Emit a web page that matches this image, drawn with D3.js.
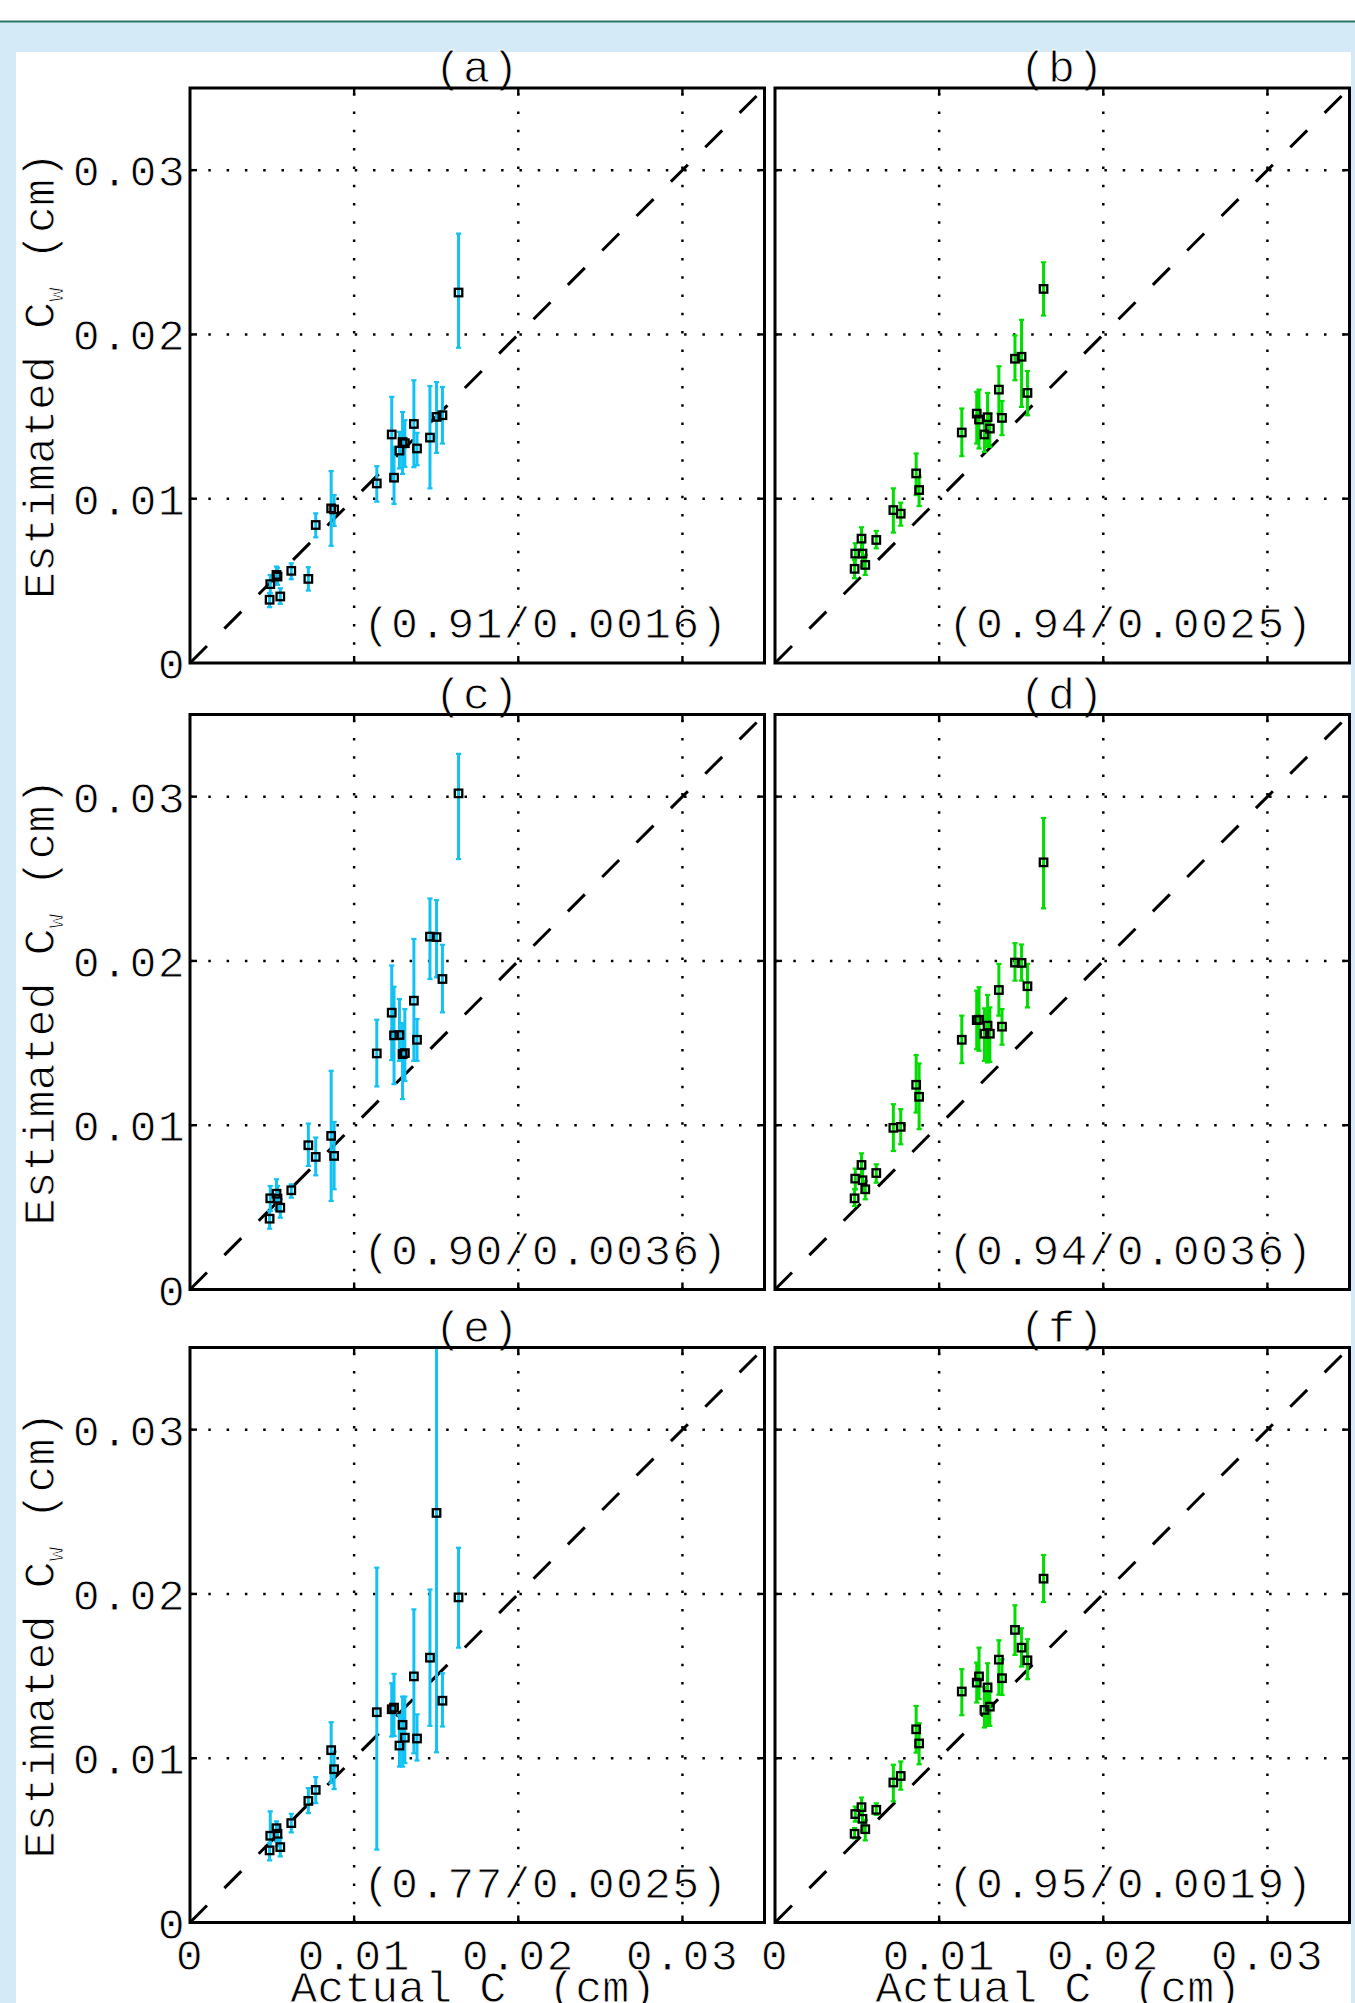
<!DOCTYPE html>
<html>
<head>
<meta charset="utf-8">
<script src="https://cdn.jsdelivr.net/npm/d3@7"></script>
<style>
  html, body { margin: 0; padding: 0; background: #ffffff; }
  svg { display: block; }
  text.thin { stroke: #ffffff; stroke-width: 0.9px; }
</style>
</head>
<body>
<svg id="chart" width="1355" height="2003"></svg>
<script>
// ---------------- DATA ----------------
const panelLabels = ["(a)", "(b)", "(c)", "(d)", "(e)", "(f)"];
const statLabels = ["(0.91/0.0016)", "(0.94/0.0025)", "(0.90/0.0036)", "(0.94/0.0036)", "(0.77/0.0025)", "(0.95/0.0019)"];
const tickValues = [0, 0.01, 0.02, 0.03];
const tickLabels = ["0", "0.01", "0.02", "0.03"];

// actual C_w (cm), shared by all panels
const actualCw = [0.00485, 0.00489, 0.00527, 0.00533, 0.00550, 0.00617, 0.00721, 0.00766, 0.00860, 0.00878,
                  0.01138, 0.01229, 0.01243, 0.01276, 0.01295, 0.01309, 0.01364, 0.01383, 0.01462, 0.01502,
                  0.01538, 0.01636];

// (a)
const estA = [0.00385, 0.00480, 0.00536, 0.00526, 0.00405, 0.00561, 0.00512, 0.00840, 0.00941, 0.00935,
              0.01093, 0.01391, 0.01128, 0.01293, 0.01345, 0.01338, 0.01455, 0.01306, 0.01372, 0.01498,
              0.01508, 0.02255];
const lowA = [0.00340, 0.00425, 0.00486, 0.00476, 0.00360, 0.00510, 0.00441, 0.00765, 0.00713, 0.00834,
              0.00982, 0.01113, 0.00968, 0.01184, 0.01151, 0.01194, 0.01192, 0.01204, 0.01063, 0.01279,
              0.01336, 0.01919];
const highA = [0.00425, 0.00536, 0.00587, 0.00580, 0.00455, 0.00607, 0.00583, 0.00911, 0.01168, 0.01022,
               0.01198, 0.01620, 0.01316, 0.01407, 0.01528, 0.01478, 0.01721, 0.01401, 0.01686, 0.01710,
               0.01680, 0.02613];
// (b)
const estB = [0.00573, 0.00666, 0.00757, 0.00666, 0.00597, 0.00749, 0.00931, 0.00909, 0.01154, 0.01053,
              0.01403, 0.01518, 0.01482, 0.01391, 0.01496, 0.01427, 0.01664, 0.01492, 0.01852, 0.01864,
              0.01644, 0.02277];
const lowB = [0.00516, 0.00597, 0.00678, 0.00587, 0.00536, 0.00698, 0.00794, 0.00836, 0.01022, 0.00955,
              0.01259, 0.01336, 0.01306, 0.01285, 0.01316, 0.01316, 0.01518, 0.01387, 0.01721, 0.01559,
              0.01508, 0.02115];
const highB = [0.00628, 0.00729, 0.00826, 0.00729, 0.00658, 0.00804, 0.01063, 0.00976, 0.01275, 0.01134,
               0.01549, 0.01650, 0.01664, 0.01478, 0.01644, 0.01518, 0.01806, 0.01595, 0.01994, 0.02089,
               0.01777, 0.02439];
// (c)
const estC = [0.00431, 0.00555, 0.00583, 0.00553, 0.00498, 0.00604, 0.00878, 0.00807, 0.00935, 0.00813,
              0.01437, 0.01685, 0.01547, 0.01549, 0.01433, 0.01439, 0.01758, 0.01520, 0.02148, 0.02145,
              0.01890, 0.03020];
const lowC = [0.00370, 0.00478, 0.00488, 0.00480, 0.00437, 0.00559, 0.00752, 0.00695, 0.00539, 0.00610,
              0.01236, 0.01396, 0.01250, 0.01392, 0.01159, 0.01270, 0.01392, 0.01392, 0.01890, 0.01900,
              0.01687, 0.02620];
const highC = [0.00478, 0.00630, 0.00671, 0.00630, 0.00549, 0.00640, 0.01010, 0.00925, 0.01331, 0.01020,
               0.01642, 0.01972, 0.01843, 0.01768, 0.01622, 0.01707, 0.02134, 0.01646, 0.02380, 0.02370,
               0.02098, 0.03260];
// (d)
const estD = [0.00555, 0.00675, 0.00758, 0.00665, 0.00610, 0.00709, 0.00984, 0.00990, 0.01246, 0.01173,
              0.01520, 0.01640, 0.01642, 0.01557, 0.01606, 0.01557, 0.01823, 0.01600, 0.01990, 0.01988,
              0.01846, 0.02600];
const lowD = [0.00508, 0.00610, 0.00681, 0.00589, 0.00549, 0.00650, 0.00843, 0.00884, 0.01077, 0.00976,
              0.01378, 0.01463, 0.01453, 0.01392, 0.01382, 0.01386, 0.01667, 0.01490, 0.01880, 0.01880,
              0.01717, 0.02320];
const highD = [0.00610, 0.00736, 0.00829, 0.00732, 0.00660, 0.00762, 0.01128, 0.01098, 0.01427, 0.01376,
               0.01667, 0.01819, 0.01840, 0.01711, 0.01793, 0.01717, 0.01982, 0.01707, 0.02108, 0.02100,
               0.01982, 0.02870];
// (e)
const estE = [0.00439, 0.00528, 0.00574, 0.00540, 0.00459, 0.00605, 0.00740, 0.00807, 0.01049, 0.00933,
              0.01280, 0.01298, 0.01308, 0.01077, 0.01203, 0.01125, 0.01498, 0.01120, 0.01612, 0.02493,
              0.01350, 0.01979];
const lowE = [0.00378, 0.00463, 0.00493, 0.00464, 0.00402, 0.00548, 0.00666, 0.00727, 0.00848, 0.00812,
              0.00443, 0.01132, 0.01136, 0.00949, 0.00949, 0.00970, 0.01030, 0.00986, 0.01197, 0.01036,
              0.01193, 0.01673];
const highE = [0.00483, 0.00676, 0.00615, 0.00594, 0.00514, 0.00662, 0.00818, 0.00885, 0.01219, 0.01040,
               0.02160, 0.01456, 0.01513, 0.01263, 0.01375, 0.01375, 0.01906, 0.01267, 0.02027, 0.03600,
               0.01517, 0.02281];
// (f)
const estF = [0.00540, 0.00660, 0.00702, 0.00631, 0.00568, 0.00686, 0.00852, 0.00892, 0.01176, 0.01090,
              0.01406, 0.01460, 0.01498, 0.01294, 0.01431, 0.01314, 0.01600, 0.01487, 0.01781, 0.01673,
              0.01596, 0.02093];
const lowF = [0.00512, 0.00614, 0.00655, 0.00554, 0.00500, 0.00655, 0.00737, 0.00808, 0.01034, 0.00963,
              0.01262, 0.01339, 0.01360, 0.01187, 0.01197, 0.01197, 0.01387, 0.01385, 0.01629, 0.01558,
              0.01481, 0.01951];
const highF = [0.00575, 0.00706, 0.00761, 0.00689, 0.00625, 0.00726, 0.00960, 0.00980, 0.01318, 0.01213,
               0.01542, 0.01582, 0.01673, 0.01432, 0.01578, 0.01402, 0.01718, 0.01602, 0.01931, 0.01791,
               0.01724, 0.02237];

const seriesEst = [estA, estB, estC, estD, estE, estF];
const seriesLow = [lowA, lowB, lowC, lowD, lowE, lowF];
const seriesHigh = [highA, highB, highC, highD, highE, highF];

// ---------------- LAYOUT / STYLE ----------------
const CYAN = "#12c2f2";
const GREEN = "#00dd00";
const panelColors = [CYAN, GREEN, CYAN, GREEN, CYAN, GREEN];
const FONT = "'Liberation Mono', 'DejaVu Sans Mono', monospace";
const LS = 1.3; // letter spacing
const colLeft = [190, 775];
const rowTop = [88, 714.5, 1347.5];
const plotW = 574.5, plotH = 575;
const domainMax = 0.035;

const svg = d3.select("#chart");

// page background
svg.append("rect").attr("x", 0).attr("y", 0).attr("width", 1355).attr("height", 2003).attr("fill", "#ffffff");
svg.append("rect").attr("x", 0).attr("y", 22).attr("width", 1355).attr("height", 1981).attr("fill", "#d5eaf7");
svg.append("rect").attr("x", 0).attr("y", 20.5).attr("width", 1355).attr("height", 2).attr("fill", "#2a7764");
svg.append("rect").attr("x", 16).attr("y", 52).attr("width", 1335).attr("height", 1951).attr("fill", "#ffffff");

const textLayer = [];

panelLabels.forEach((lab, i) => {
  const col = i % 2, row = Math.floor(i / 2);
  const L = colLeft[col], T = rowTop[row];
  const x = d3.scaleLinear().domain([0, domainMax]).range([L, L + plotW]);
  const y = d3.scaleLinear().domain([0, domainMax]).range([T + plotH, T]);
  const g = svg.append("g");

  const clipId = "clip" + i;
  svg.append("clipPath").attr("id", clipId).append("rect")
    .attr("x", L).attr("y", T).attr("width", plotW).attr("height", plotH);

  // text first (so lines drawn later sit on top of the thinning stroke)
  const tg = g.append("g");

  // title
  tg.append("text").attr("class", "thin").attr("x", L + plotW / 2).attr("y", T - 6)
    .attr("text-anchor", "middle").attr("font-family", FONT).attr("font-size", 45)
    .attr("letter-spacing", LS).attr("fill", "#000").text(lab);

  // stats annotation
  tg.append("text").attr("class", "thin").attr("x", L + 173).attr("y", T + plotH - 25)
    .attr("text-anchor", "start").attr("font-family", FONT).attr("font-size", 45)
    .attr("letter-spacing", 1.1).attr("fill", "#000").text(statLabels[i]);

  // y tick labels & label (left column)
  if (col === 0) {
    tg.selectAll(".yl").data(tickValues).enter().append("text").attr("class", "thin")
      .attr("x", L - 4).attr("y", d => y(d) + 16)
      .attr("text-anchor", "end").attr("font-family", FONT).attr("font-size", 45)
      .attr("letter-spacing", LS).attr("fill", "#000").text((d, k) => tickLabels[k]);
    const cy = T + plotH / 2;
    const yl = tg.append("text").attr("class", "thin")
      .attr("transform", `translate(54,${cy}) rotate(-90)`)
      .attr("text-anchor", "middle").attr("font-family", FONT).attr("font-size", 45).attr("fill", "#000");
    yl.append("tspan").text("Estimated C");
    yl.append("tspan").attr("font-size", 25).attr("dy", 9).text("w");
    yl.append("tspan").attr("dy", -9).text(" (cm)");
  }
  // x tick labels & label (bottom row)
  if (row === 2) {
    tg.selectAll(".xl").data(tickValues).enter().append("text").attr("class", "thin")
      .attr("x", d => x(d)).attr("y", T + plotH + 47)
      .attr("text-anchor", "middle").attr("font-family", FONT).attr("font-size", 45)
      .attr("letter-spacing", LS).attr("fill", "#000").text((d, k) => tickLabels[k]);
    const xl = tg.append("text").attr("class", "thin")
      .attr("x", L + plotW / 2 - 4).attr("y", 2002)
      .attr("text-anchor", "middle").attr("font-family", FONT).attr("font-size", 45).attr("fill", "#000");
    xl.append("tspan").text("Actual C");
    xl.append("tspan").attr("font-size", 25).attr("dy", 16).text("w");
    xl.append("tspan").attr("dy", -16).text(" (cm)");
  }

  // grid (dotted)
  const gridVals = tickValues.filter(v => v > 0);
  g.selectAll(".gx").data(gridVals).enter().append("line")
    .attr("x1", d => x(d)).attr("x2", d => x(d))
    .attr("y1", y(0)).attr("y2", y(domainMax))
    .attr("stroke", "#000").attr("stroke-width", 2.5).attr("stroke-dasharray", "2.5,15.8");
  g.selectAll(".gy").data(gridVals).enter().append("line")
    .attr("x1", x(0)).attr("x2", x(domainMax))
    .attr("y1", d => y(d)).attr("y2", d => y(d))
    .attr("stroke", "#000").attr("stroke-width", 2.5).attr("stroke-dasharray", "2.5,15.8");

  // 1:1 dashed line
  g.append("line")
    .attr("x1", x(0)).attr("y1", y(0)).attr("x2", x(domainMax)).attr("y2", y(domainMax))
    .attr("stroke", "#000").attr("stroke-width", 3).attr("stroke-dasharray", "24,24.6");

  const est = seriesEst[i], lo = seriesLow[i], hi = seriesHigh[i];
  const idx = d3.range(actualCw.length);
  const bars = g.append("g").attr("clip-path", `url(#${clipId})`);
  const color = panelColors[i];
  bars.selectAll(".eb").data(idx).enter().append("line")
    .attr("x1", d => x(actualCw[d])).attr("x2", d => x(actualCw[d]))
    .attr("y1", d => y(lo[d])).attr("y2", d => y(hi[d]))
    .attr("stroke", color).attr("stroke-width", 3);
  bars.selectAll(".cl").data(idx).enter().append("line")
    .attr("x1", d => x(actualCw[d]) - 2.6).attr("x2", d => x(actualCw[d]) + 2.6)
    .attr("y1", d => y(lo[d])).attr("y2", d => y(lo[d]))
    .attr("stroke", color).attr("stroke-width", 2.2);
  bars.selectAll(".ch").data(idx).enter().append("line")
    .attr("x1", d => x(actualCw[d]) - 2.6).attr("x2", d => x(actualCw[d]) + 2.6)
    .attr("y1", d => y(hi[d])).attr("y2", d => y(hi[d]))
    .attr("stroke", color).attr("stroke-width", 2.2);

  // markers
  const ms = 7.5;
  g.selectAll(".mk").data(idx).enter().append("rect")
    .attr("x", d => x(actualCw[d]) - ms / 2).attr("y", d => y(est[d]) - ms / 2)
    .attr("width", ms).attr("height", ms)
    .attr("fill", "none").attr("stroke", "#000").attr("stroke-width", 2.3);

  // ticks (inward, all four sides)
  const tk = 7;
  gridVals.forEach(v => {
    g.append("line").attr("x1", x(v)).attr("x2", x(v)).attr("y1", y(0)).attr("y2", y(0) - tk).attr("stroke", "#000").attr("stroke-width", 2.4);
    g.append("line").attr("x1", x(v)).attr("x2", x(v)).attr("y1", y(domainMax)).attr("y2", y(domainMax) + tk).attr("stroke", "#000").attr("stroke-width", 2.4);
    g.append("line").attr("y1", y(v)).attr("y2", y(v)).attr("x1", x(0)).attr("x2", x(0) + tk).attr("stroke", "#000").attr("stroke-width", 2.4);
    g.append("line").attr("y1", y(v)).attr("y2", y(v)).attr("x1", x(domainMax)).attr("x2", x(domainMax) - tk).attr("stroke", "#000").attr("stroke-width", 2.4);
  });

  // box
  g.append("rect").attr("x", L).attr("y", T).attr("width", plotW).attr("height", plotH)
    .attr("fill", "none").attr("stroke", "#000").attr("stroke-width", 3);
});
</script>
</body>
</html>
